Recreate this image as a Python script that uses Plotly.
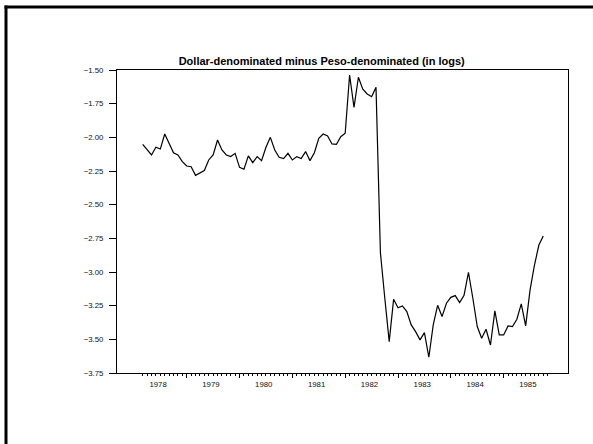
import plotly.graph_objects as go

# Monthly series, March 1978 through October 1985
start_year, start_month = 1978, 3
values = [
    -2.052, -2.090, -2.131, -2.074, -2.087, -1.975, -2.045, -2.114, -2.131, -2.180,
    -2.213, -2.218, -2.282, -2.267, -2.247, -2.168, -2.131, -2.020, -2.094, -2.131,
    -2.143, -2.119, -2.223, -2.237, -2.138, -2.188, -2.143, -2.173, -2.074, -2.000,
    -2.094, -2.148, -2.158, -2.119, -2.168, -2.143, -2.158, -2.106, -2.173, -2.114,
    -2.007, -1.975, -1.990, -2.049, -2.052, -1.995, -1.970, -1.537, -1.777, -1.554,
    -1.643, -1.678, -1.698, -1.629, -2.856, -3.195, -3.517, -3.203, -3.265, -3.252,
    -3.294, -3.393, -3.443, -3.504, -3.450, -3.633, -3.393, -3.247, -3.331, -3.232,
    -3.188, -3.175, -3.227, -3.173, -3.002, -3.195, -3.405, -3.492, -3.425, -3.542,
    -3.289, -3.467, -3.467, -3.400, -3.405, -3.351, -3.237, -3.400, -3.133, -2.948,
    -2.800, -2.732,
]
years = [1978, 1979, 1980, 1981, 1982, 1983, 1984, 1985]
y_ticks = [-1.50, -1.75, -2.00, -2.25, -2.50, -2.75, -3.00, -3.25, -3.50, -3.75]

# decimal-year position of each monthly observation
x_obs = [start_year + (start_month - 1 + i) / 12 for i in range(len(values))]
month_ticks = [start_year + (start_month - 1 + i) / 12 for i in range(len(values) + 1)]
year_bounds = [y for y in range(years[0] + 1, years[-1] + 1)]
label_pos = [y + 5.5 / 12 for y in years]

x_range = [1977.68, 1986.218]
font = "Liberation Sans, Arial, sans-serif"
tick_font = dict(family=font, size=7.8, color="#111111")

fig = go.Figure()
fig.add_trace(go.Scatter(
    x=x_obs, y=values, mode="lines",
    line=dict(color="black", width=1.2),
    showlegend=False, hoverinfo="skip",
))
# empty trace so the label axis is rendered
fig.add_trace(go.Scatter(x=[], y=[], xaxis="x2", showlegend=False))

fig.update_layout(
    template="none",
    width=593, height=444,
    autosize=False,
    margin=dict(l=117, r=25, t=70, b=71),
    paper_bgcolor="white", plot_bgcolor="white",
    font=dict(family=font, size=7.8, color="black"),
    title=dict(
        text="<b>Dollar-denominated minus Peso-denominated (in logs)</b>",
        x=321.7 / 593, xref="container", xanchor="center",
        y=1 - 61 / 444, yref="container", yanchor="middle",
        font=dict(family=font, size=11, color="black"),
    ),
    xaxis=dict(
        range=x_range, showgrid=False, zeroline=False,
        showline=True, mirror=True, linecolor="black", linewidth=1,
        tickmode="array", tickvals=year_bounds, showticklabels=False,
        ticks="outside", ticklen=4, tickcolor="black", tickwidth=1,
        minor=dict(tickmode="array", tickvals=month_ticks, ticks="outside",
                   ticklen=2, tickcolor="black", tickwidth=1, showgrid=False),
    ),
    xaxis2=dict(
        range=x_range, overlaying="x", anchor="y", side="bottom",
        showgrid=False, zeroline=False, showline=False,
        tickmode="array", tickvals=label_pos, ticktext=[str(y) for y in years],
        ticks="", ticklabelstandoff=5, tickfont=tick_font,
    ),
    yaxis=dict(
        range=[-3.75, -1.5], showgrid=False, zeroline=False,
        showline=True, mirror=True, linecolor="black", linewidth=1,
        tickmode="array", tickvals=y_ticks, tickformat=".2f",
        ticks="outside", ticklen=7, tickcolor="black", tickwidth=1,
        ticklabelstandoff=4, tickfont=tick_font,
    ),
    shapes=[
        dict(type="line", xref="paper", yref="paper",
             x0=(6 - 117) / 451, x1=(6 - 117) / 451, y0=1 + (70 - 5.5) / 303, y1=-1.5,
             line=dict(color="black", width=3)),
        dict(type="line", xref="paper", yref="paper",
             x0=(4.5 - 117) / 451, x1=2, y0=1 + (70 - 7) / 303, y1=1 + (70 - 7) / 303,
             line=dict(color="black", width=3)),
    ],
)

fig.write_html("out.html")
